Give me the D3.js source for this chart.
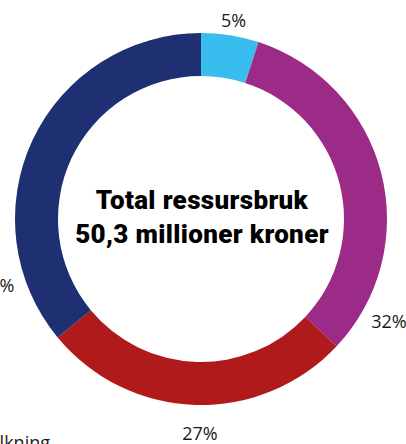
<!DOCTYPE html>
<html>
<head>
<meta charset="utf-8">
<script src="https://cdn.jsdelivr.net/npm/d3@7"></script>
<style>
  html, body { margin: 0; padding: 0; background: #ffffff; }
  svg { display: block; }
</style>
</head>
<body>
<svg id="chart" width="406" height="444"></svg>
<script>
// ---- data ----
const categories = ["Andre", "Kategori B", "Kategori C", "Befolkning"];
const values = [5, 32, 27, 36];
const valueLabels = ["5%", "32%", "27%", "36%"];
const colors = ["#38bdee", "#9c2a87", "#b01a1a", "#1e2f72"];
const titleLines = ["Total ressursbruk", "50,3 millioner kroner"];
const cutLabel = "Befolkning";

// ---- layout ----
const W = 406, H = 444;
const cx = 201, cy = 219;
const outerR = 186, innerR = 143;
// angle (deg, clockwise from top) and radius where each value label sits
const labelLayout = [
  { angle: 9.3, r: 201 },
  { angle: 118.6, r: 214 },
  { angle: 180.3, r: 215 },
  { angle: 252, r: 215 }
];

const svg = d3.select("#chart");
const g = svg.append("g").attr("transform", `translate(${cx},${cy})`);

const pie = d3.pie().sort(null).value(d => d.value);
const arc = d3.arc().innerRadius(innerR).outerRadius(outerR);

const data = categories.map((c, i) => ({ category: c, value: values[i], label: valueLabels[i], color: colors[i] }));
const arcs = pie(data);

g.selectAll("path.slice")
  .data(arcs)
  .join("path")
  .attr("class", "slice")
  .attr("d", arc)
  .attr("fill", d => d.data.color);

const font = "'Open Sans', Roboto, sans-serif";
const titleFont = "Roboto, sans-serif";

g.selectAll("text.val")
  .data(arcs)
  .join("text")
  .attr("class", "val")
  .attr("x", (d, i) => labelLayout[i].r * Math.sin(labelLayout[i].angle * Math.PI / 180))
  .attr("y", (d, i) => -labelLayout[i].r * Math.cos(labelLayout[i].angle * Math.PI / 180))
  .attr("dy", "0.35em")
  .attr("text-anchor", "middle")
  .attr("font-family", font)
  .attr("font-size", 18)
  .attr("fill", "#1a1a1a")
  .text(d => d.data.label);

g.selectAll("text.title")
  .data(titleLines)
  .join("text")
  .attr("class", "title")
  .attr("x", 1)
  .attr("y", (d, i) => -10 + i * 34)
  .attr("text-anchor", "middle")
  .attr("font-family", titleFont)
  .attr("font-weight", 900)
  .attr("font-size", 26)
  .attr("letter-spacing", 0.35)
  .attr("fill", "#000")
  .text(d => d);

svg.append("text")
  .attr("x", 50)
  .attr("y", 449)
  .attr("text-anchor", "end")
  .attr("font-family", font)
  .attr("font-size", 18)
  .attr("fill", "#1a1a1a")
  .text(cutLabel);
</script>
</body>
</html>
